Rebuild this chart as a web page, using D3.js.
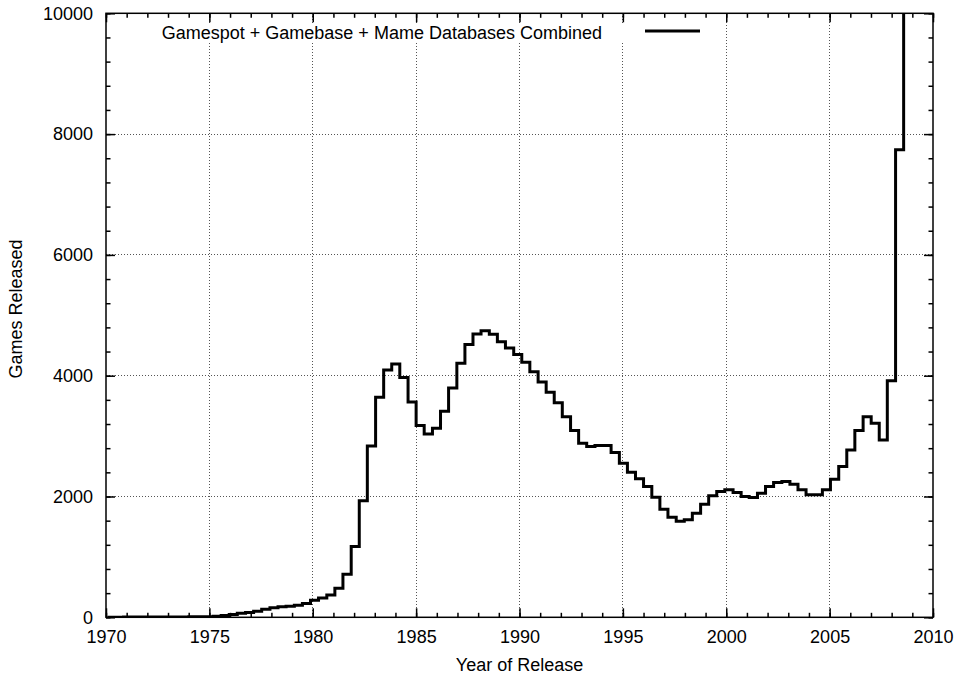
<!DOCTYPE html>
<html>
<head>
<meta charset="utf-8">
<script src="https://cdn.jsdelivr.net/npm/d3@7"></script>
<style>
body { margin: 0; background: #fff; }
svg { display: block; font-family: "Liberation Sans", Arial, Helvetica, sans-serif; }
</style>
</head>
<body>
<script>
const SERIES_LABEL = 'Gamespot + Gamebase + Mame Databases Combined';
const X_LABEL = 'Year of Release';
const Y_LABEL = 'Games Released';

// start of each step (year)
const years = [
    1970.07, 1970.46, 1970.85, 1971.25, 1971.64, 1972.03, 1972.42, 1972.82, 1973.21, 1973.60,
    1974.00, 1974.39, 1974.78,
    1975.18, 1975.57, 1975.96, 1976.35, 1976.75, 1977.14, 1977.53, 1977.93, 1978.32, 1978.71,
    1979.11, 1979.50, 1979.89, 1980.28, 1980.68, 1981.07, 1981.46, 1981.86, 1982.25, 1982.64,
    1983.04, 1983.43, 1983.82, 1984.21, 1984.61,
    1985.00, 1985.39, 1985.79, 1986.18, 1986.57, 1986.97, 1987.36, 1987.75, 1988.14, 1988.54,
    1988.93, 1989.32, 1989.72, 1990.11, 1990.50, 1990.90, 1991.29, 1991.68, 1992.07, 1992.47,
    1992.86, 1993.25, 1993.65, 1994.04, 1994.43, 1994.83, 1995.22, 1995.61, 1996.00, 1996.40,
    1996.79, 1997.18, 1997.58, 1997.97, 1998.36, 1998.76, 1999.15, 1999.54, 1999.93, 2000.33,
    2000.72, 2001.11, 2001.51, 2001.90, 2002.29, 2002.69, 2003.08, 2003.47, 2003.86, 2004.26,
    2004.65, 2005.04, 2005.44, 2005.83, 2006.22, 2006.62, 2007.01, 2007.40, 2007.79, 2008.19,
    2008.58
];
const games = [
    2, 2, 3, 3, 4, 5, 5, 6, 6, 7,
    8, 8, 10,
    18, 30, 45, 65, 80, 100, 132, 158, 175, 183,
    200, 228, 282, 318, 368, 482, 714, 1172, 1928, 2837,
    3642, 4094, 4193, 3972, 3565,
    3174, 3036, 3130, 3410, 3797, 4205, 4515, 4690, 4745, 4685,
    4563, 4458, 4350, 4221, 4066, 3895, 3725, 3554, 3322, 3091,
    2881, 2826, 2843, 2843, 2727, 2551, 2402, 2292, 2165, 1989,
    1790, 1658, 1592, 1614, 1724, 1873, 2011, 2083, 2110, 2066,
    2000, 1983, 2055, 2165, 2231, 2248, 2204, 2110, 2028, 2028,
    2110, 2286, 2496, 2771, 3091, 3322, 3212, 2937, 3917, 7740,
    12000
];

const xTicks = [1970, 1975, 1980, 1985, 1990, 1995, 2000, 2005, 2010];
const yTicks = [0, 2000, 4000, 6000, 8000, 10000];
const xMinor = d3.range(1970, 2011, 1);
const yMinor = d3.range(0, 10001, 400);


function plot(svg, margin)
{
    const pxX = +svg.attr('width');
    const pxY = +svg.attr('height');
    const x0 = margin.left, x1 = pxX - margin.right;
    const y0 = margin.top, y1 = pxY - margin.bottom;

    const scX = d3.scaleLinear().domain([1970, 2010]).range([x0, x1]);
    const scY = d3.scaleLinear().domain([0, 10000]).range([y1, y0]);

    svg.append('clipPath')
        .attr('id', 'plot-area')
        .append('rect')
        .attr('x', x0).attr('y', y0)
        .attr('width', x1 - x0).attr('height', y1 - y0);

    // dotted grid at major ticks
    const grid = svg.append('g')
        .attr('stroke', '#555')
        .attr('stroke-width', 1)
        .attr('stroke-dasharray', '1,2')
        .attr('shape-rendering', 'crispEdges');
    grid.selectAll('line.gx')
        .data(xTicks.slice(1, -1)).enter().append('line')
        .attr('class', 'gx')
        .attr('x1', d => scX(d)).attr('x2', d => scX(d))
        .attr('y1', y0).attr('y2', y1);
    grid.selectAll('line.gy')
        .data(yTicks.slice(1, -1)).enter().append('line')
        .attr('class', 'gy')
        .attr('x1', x0).attr('x2', x1)
        .attr('y1', d => scY(d)).attr('y2', d => scY(d));

    // key with opaque background
    const key = svg.append('g');
    key.append('rect')
        .attr('x', 158).attr('y', 23)
        .attr('width', 550).attr('height', 19)
        .attr('fill', '#fff');
    key.append('text')
        .attr('x', 602).attr('y', 38.5)
        .attr('text-anchor', 'end')
        .attr('font-size', 18)
        .text(SERIES_LABEL);
    key.append('line')
        .attr('x1', 645).attr('x2', 700)
        .attr('y1', 31).attr('y2', 31)
        .attr('stroke', '#000')
        .attr('stroke-width', 3);

    const lineMaker = d3.line()
        .curve(d3.curveStepAfter)
        .x(d => scX(d[0]))
        .y(d => scY(d[1]));
    svg.append('path')
        .attr('clip-path', 'url(#plot-area)')
        .attr('fill', 'none')
        .attr('stroke', '#000')
        .attr('stroke-width', 3)
        .attr('stroke-linejoin', 'miter')
        .attr('d', lineMaker(d3.zip(years, games)));

    function addAxis(axis, transform, labels)
    {
        const g = svg.append('g')
            .attr('transform', transform)
            .call(axis);
        g.attr('font-family', null).attr('font-size', 18);
        g.select('.domain').remove();
        g.selectAll('line').attr('stroke-width', 1.5);
        if (!labels) g.selectAll('text').remove();
        return g;
    }

    const fmt = d3.format('d');
    addAxis(d3.axisBottom(scX).tickValues(xMinor).tickSize(-4.5), `translate(0,${y1})`, false);
    addAxis(d3.axisTop(scX).tickValues(xMinor).tickSize(-4.5), `translate(0,${y0})`, false);
    addAxis(d3.axisLeft(scY).tickValues(yMinor).tickSize(-4.5), `translate(${x0},0)`, false);
    addAxis(d3.axisRight(scY).tickValues(yMinor).tickSize(-4.5), `translate(${x1},0)`, false);

    addAxis(d3.axisBottom(scX).tickValues(xTicks).tickFormat(fmt).tickSize(-9).tickPadding(13),
        `translate(0,${y1})`, true);
    addAxis(d3.axisTop(scX).tickValues(xTicks).tickSize(-9), `translate(0,${y0})`, false);
    addAxis(d3.axisLeft(scY).tickValues(yTicks).tickFormat(fmt).tickSize(-9).tickPadding(13),
        `translate(${x0},0)`, true);
    addAxis(d3.axisRight(scY).tickValues(yTicks).tickSize(-9), `translate(${x1},0)`, false);

    svg.append('rect')
        .attr('x', x0).attr('y', y0)
        .attr('width', x1 - x0).attr('height', y1 - y0)
        .attr('fill', 'none')
        .attr('stroke', '#000')
        .attr('stroke-width', 1.5);

    svg.append('text')
        .attr('x', (x0 + x1) / 2).attr('y', 671)
        .attr('text-anchor', 'middle')
        .attr('font-size', 18)
        .text(X_LABEL);
    svg.append('text')
        .attr('transform', `translate(22,${309}) rotate(-90)`)
        .attr('text-anchor', 'middle')
        .attr('font-size', 18)
        .text(Y_LABEL);
}

function main()
{
    const svg = d3.select('body')
        .append('svg')
        .attr('width', 959)
        .attr('height', 676);
    plot(svg, {left: 106, right: 26, top: 13.3, bottom: 58.7});
}

main();
</script>
</body>
</html>
